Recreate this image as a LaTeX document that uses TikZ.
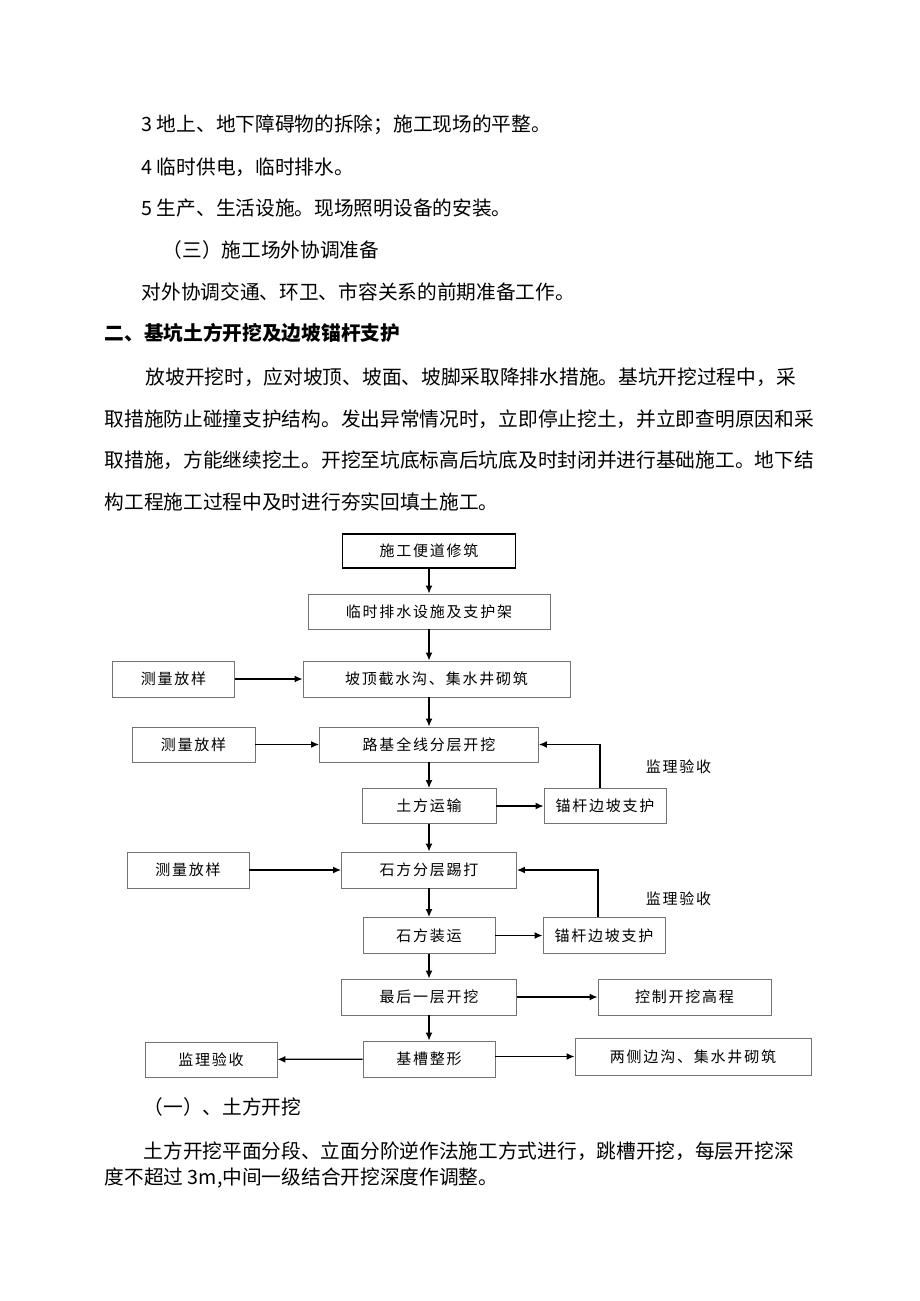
\documentclass[tikz,border=0pt]{standalone}
\usepackage{fontspec}
\newfontfamily\cjk{Noto Sans CJK SC}
\newfontfamily\cjkbox[LetterSpace=12]{Noto Sans CJK SC}
\usetikzlibrary{arrows.meta}

\begin{document}
\begin{tikzpicture}[x=1pt, y=-1pt, line width=1.3pt, >={Latex[length=8pt,width=7pt]}]
        \tikzstyle{para}=[anchor=west, inner sep=0pt, font=\cjk\fontsize{19.7}{22}\selectfont]
        \tikzstyle{stage}=[rectangle,draw=black!55,line width=0.9pt,inner sep=0pt,minimum height=35pt,align=center,font=\cjkbox\fontsize{15}{18}\selectfont]
        \tikzstyle{note}=[inner sep=0pt,font=\cjkbox\fontsize{15}{18}\selectfont]

        \useasboundingbox (0,0) rectangle (920,1301);
        \fill[white] (0,0) rectangle (920,1301);

        % text above the chart
        \node[para] (p1) at (141,125) {3 地上、地下障碍物的拆除；施工现场的平整。};
        \node[para] (p2) at (141,167) {4 临时供电，临时排水。};
        \node[para] (p3) at (141,208) {5 生产、生活设施。现场照明设备的安装。};
        \node[para] (p4) at (162,250) {（三）施工场外协调准备};
        \node[para] (p5) at (141,292) {对外协调交通、环卫、市容关系的前期准备工作。};
        \node[para, font=\cjk\bfseries\fontsize{19.7}{22}\selectfont] (p6) at (104,333) {二、基坑土方开挖及边坡锚杆支护};
        \node[para] (p7) at (145,377) {放坡开挖时，应对坡顶、坡面、坡脚采取降排水措施。基坑开挖过程中，采};
        \node[para] (p8) at (104,419) {取措施防止碰撞支护结构。发出异常情况时，立即停止挖土，并立即查明原因和采};
        \node[para] (p9) at (104,460) {取措施，方能继续挖土。开挖至坑底标高后坑底及时封闭并进行基础施工。地下结};
        \node[para] (p10) at (104,502) {构工程施工过程中及时进行夯实回填土施工。};

        % flow chart
        \node[stage, minimum width=173pt, minimum height=34pt, draw=black, line width=1.3pt] (road) at (429,551) {施工便道修筑};
        \node[stage, minimum width=242pt] (drain) at (429,611.5) {临时排水设施及支护架};
        \node[stage, minimum width=267pt, minimum height=36pt] (ditch) at (436.5,679) {坡顶截水沟、集水井砌筑};
        \node[stage, minimum width=122pt, minimum height=36pt] (survA) at (173.5,679) {测量放样};
        \node[stage, minimum width=219pt] (excav) at (429,744.5) {路基全线分层开挖};
        \node[stage, minimum width=123pt] (survB) at (193.5,744.5) {测量放样};
        \node[stage, minimum width=134pt] (haul) at (429,806) {土方运输};
        \node[stage, minimum width=122pt] (anchorA) at (605,806) {锚杆边坡支护};
        \node[note] (checkA) at (678.5,767) {监理验收};
        \node[stage, minimum width=175pt, minimum height=36pt] (rock) at (429,870) {石方分层踢打};
        \node[stage, minimum width=122pt, minimum height=36pt] (survC) at (188,870) {测量放样};
        \node[stage, minimum width=132pt, minimum height=36pt] (load) at (429,935.5) {石方装运};
        \node[stage, minimum width=122pt, minimum height=36pt] (anchorB) at (604,935.5) {锚杆边坡支护};
        \node[note] (checkB) at (678.5,899) {监理验收};
        \node[stage, minimum width=175pt, minimum height=36pt] (last) at (429,997) {最后一层开挖};
        \node[stage, minimum width=173pt, minimum height=36pt] (level) at (684.5,997) {控制开挖高程};
        \node[stage, minimum width=132pt, minimum height=36pt] (trim) at (429,1059) {基槽整形};
        \node[stage, minimum width=132pt] (accept) at (211,1059.5) {监理验收};
        \node[stage, minimum width=236pt, minimum height=37pt] (side) at (693,1056.5) {两侧边沟、集水井砌筑};

        \draw[->] (road) -- (drain);
        \draw[->] (drain) -- (drain |- ditch.north);
        \draw[->] (ditch.south -| excav) -- (excav);
        \draw[->] (excav) -- (haul);
        \draw[->] (haul) -- (rock);
        \draw[->] (rock) -- (load);
        \draw[->] (load) -- (last);
        \draw[->] (last) -- (trim);
        \draw[->] (survA) -- (ditch);
        \draw[->] (survB) -- (excav);
        \draw[->] (survC) -- (rock);
        \draw[->] (haul) -- (anchorA);
        \draw[->] (load) -- (anchorB);
        \draw[->] ([xshift=-5pt]anchorA.north) |- (excav);
        \draw[->] ([xshift=-6pt]anchorB.north) |- (rock);
        \draw[->] (last) -- (level);
        \draw[->] (trim.east |- side) -- (side);
        \draw[->] (trim) -- (accept);

        % text below the chart
        \node[para] (q1) at (143,1107) {（一）、土方开挖};
        \node[para] (q2) at (143,1151) {土方开挖平面分段、立面分阶逆作法施工方式进行，跳槽开挖，每层开挖深};
        \node[para] (q3) at (104,1178) {度不超过 3m,中间一级结合开挖深度作调整。};
\end{tikzpicture}
\end{document}
